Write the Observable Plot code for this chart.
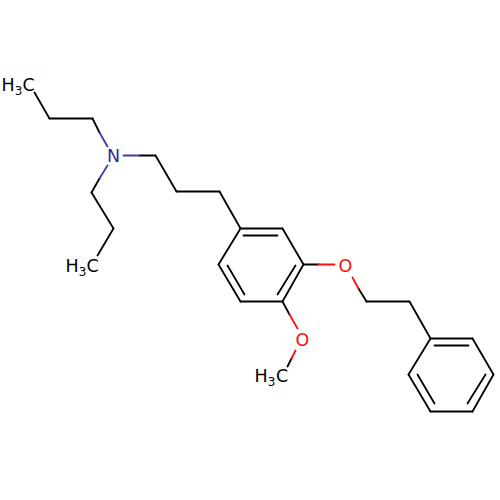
<!DOCTYPE html>
<html>
<head>
<meta charset="utf-8">
<style>html,body{margin:0;padding:0;background:#fff}svg{display:block}</style>
<script src="https://cdn.jsdelivr.net/npm/d3@7"></script>
<script src="https://cdn.jsdelivr.net/npm/@observablehq/plot@0.6"></script>
</head>
<body>
<div id="chart"></div>
<script>
const black = "#000000", blue = "#3d3da8", red = "#ff0d0d";
// bonds: x1, y1, x2, y2
const blackBonds = [
  [34,92,49,118],[49,118,92,118],[92,118,99,132],
  [139,155,155,155],[155,155,176,191],[176,191,219,191],[219,191,240,228],
  [99,178,91,192],[91,192,113,228],[113,228,97,255],
  [240,228,282,228],[282,228,303,264],[303,264,282,301],[282,301,240,301],[240,301,218,264],[218,264,240,228],
  [243,235,277,235],[227,265,244,294],[295,265,277,294],
  [303,264,318,264],[358,288,366,301],[366,301,409,301],[409,301,430,338],
  [282,301,289,314],[291,358,287,366],
  [430,338,472,338],[472,338,493,374],[493,374,472,411],[472,411,430,411],[430,411,408,374],[408,374,430,338],
  [434,345,468,345],[417,374,434,403],[485,374,467,403]
];
const blueBonds = [[99,132,107,146],[123,155,139,155],[107,165,99,178]];
const redBonds = [[318,264,334,264],[352,277,358,288],[289,314,297,328],[295,350,291,358]];
const letterX = [113,345,302,7.5,28,71.5,92,260.5,281.5];
const letterY = [156,266,340,84.5,84.5,266,266,376,376];
const letters = ["N","O","O","H","C","H","C","H","C"];
const letterColors = ["#2c2c9c",red,red,black,black,black,black,black,black];
const subX = [18,82,271];
const subY = [91,272,382];
const subText = ["3","3","3"];

const toLinks = (rows, color) => rows.map(([x1,y1,x2,y2]) => ({x1,y1,x2,y2,color}));
const bonds = [...toLinks(blackBonds,black),...toLinks(blueBonds,blue),...toLinks(redBonds,red)];

const plot = Plot.plot({
  width: 500, height: 500,
  marginTop: 0, marginRight: 0, marginBottom: 0, marginLeft: 0,
  x: {domain: [0,500], range: [0,500], axis: null},
  y: {domain: [0,500], range: [0,500], axis: null},
  style: {background: "#fff", fontFamily: "'DejaVu Sans'"},
  marks: [
    Plot.link(bonds, {x1:"x1",y1:"y1",x2:"x2",y2:"y2",stroke:"color",strokeWidth:1.8,strokeLinecap:"round"}),
    Plot.text(letters, {x:(d,i)=>letterX[i], y:(d,i)=>letterY[i], text:d=>d, fill:(d,i)=>letterColors[i], fontSize:17.5, textAnchor:"middle", lineAnchor:"middle"}),
    Plot.text(subText, {x:(d,i)=>subX[i], y:(d,i)=>subY[i], text:d=>d, fill:black, fontSize:12, textAnchor:"middle", lineAnchor:"middle"})
  ]
});
document.getElementById("chart").append(plot);
</script>
</body>
</html>
